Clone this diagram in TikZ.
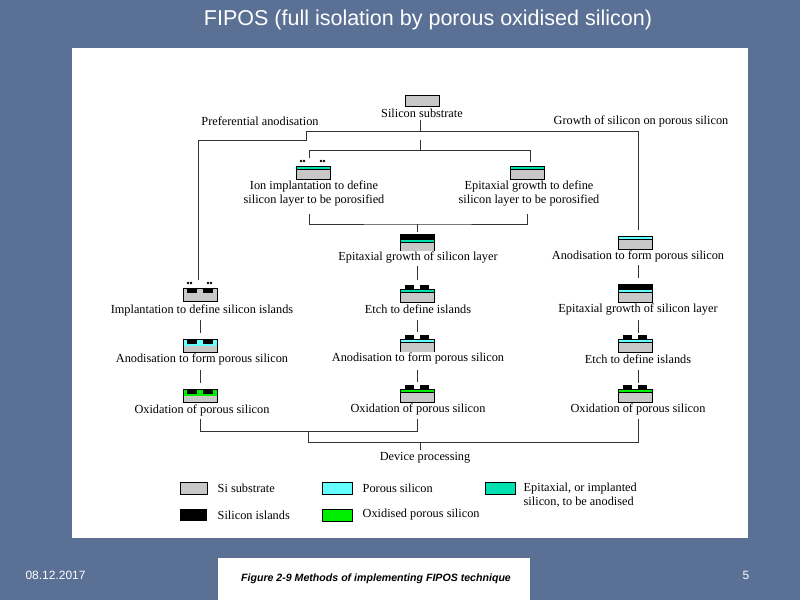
\documentclass[tikz,border=0pt]{standalone}
\usepackage{fontspec}
\setmainfont{Liberation Serif}
\newfontfamily\arialf{Liberation Sans}
\definecolor{bgblue}{HTML}{5A7095}
\definecolor{sigray}{HTML}{C8C8C8}
\definecolor{porous}{HTML}{66FFFF}
\definecolor{epitl}{HTML}{00E0B0}
\definecolor{oxgrn}{HTML}{00EE00}
\newcommand\Wsub{\draw[fill=sigray] (-17,0) rectangle (17,11);}
\newcommand\Wstripe[1]{\fill[#1](-17,0) rectangle (17,3); \fill[sigray] (-17,3) rectangle (17,13); \draw (-17,0) rectangle (17,13); \draw (-17,3)--(17,3);}
\newcommand\Wbumps{\fill[black] (-12,-4) rectangle (-3,0); \fill[black] (3,-4) rectangle (12,0);}
\newcommand\Wepi[1]{\fill[black](-17,-5) rectangle (17,0); \Wstripe{#1} \draw (-17,-5) rectangle (17,13);}
\newcommand\Wdots{\foreach \xx in {-12,-9,8,11} \fill (\xx,-5) circle (1.3);}
\newcommand\Wemb[1]{\fill[#1](-17,0) rectangle (17,7); \fill[sigray](-17,7) rectangle (17,13); \fill[black](-13,0) rectangle (-3,5); \fill[black](3,0) rectangle (13,5); \draw (-17,0) rectangle (17,13);}
\begin{document}
\begin{tikzpicture}[x=1pt,y=-1pt,
  lbl/.style={font=\fontsize{12.3}{14}\selectfont, align=center, inner sep=0.5pt, fill=white},
  conn/.style={draw=black!80, line width=0.8pt}]
\useasboundingbox (0,0) rectangle (800,600);
\fill[bgblue] (0,0) rectangle (800,600);
\node[font=\arialf\fontsize{21.5}{24}\selectfont, text=white] (title) at (428,20) {FIPOS (full isolation by porous oxidised silicon)};
\fill[white] (72,48) rectangle (748,538);
\fill[white] (218,558) rectangle (530,600);
\node[font=\arialf\bfseries\itshape\fontsize{10.6}{12}\selectfont] (cap) at (376,579) {Figure 2-9 Methods of implementing FIPOS technique};
\node[font=\arialf\fontsize{12}{13}\selectfont, text=white, anchor=west] (date) at (22,575) {08.12.2017};
\node[font=\arialf\fontsize{12}{13}\selectfont, text=white] (pg) at (746,575) {5};

% connectors
\draw[conn] (420,120) |- (306,131) |- (198,140) -- (198,280);
\draw[conn] (306,131) -- (638,131) -- (638,230);
\draw[conn] (420,140) -- (420,150);
\draw[conn] (309,158) |- (530,150) -- (530,162);
\draw[conn] (309,214) |- (417,224) -| (527,214);
\draw[conn] (417,224) -- (417,232);
\draw[conn] (417,266) -- (417,280);
\draw[conn] (417,320) -- (417,332);
\draw[conn] (417,370) -- (417,382);
\draw[conn] (200,320) -- (200,333);
\draw[conn] (200,370) -- (200,383);
\draw[conn] (638,265) -- (638,278);
\draw[conn] (638,320) -- (638,333);
\draw[conn] (638,370) -- (638,383);
\draw[conn] (200,419) |- (417,431) -- (417,419);
\draw[conn] (308,431) |- (638,442) -- (638,419);
\draw[conn] (420,442) -- (420,450);

% icons
\begin{scope}[shift={(422,95)}]\Wsub\end{scope}
\begin{scope}[shift={(313,166)}]\Wdots\Wstripe{epitl}\end{scope}
\begin{scope}[shift={(527,166)}]\Wstripe{epitl}\end{scope}
\begin{scope}[shift={(417,239)}]\Wepi{epitl}\end{scope}
\begin{scope}[shift={(417,289)}]\Wbumps\Wstripe{epitl}\end{scope}
\begin{scope}[shift={(417,339)}]\Wbumps\Wstripe{porous}\end{scope}
\begin{scope}[shift={(417,389)}]\Wbumps\Wstripe{oxgrn}\end{scope}
\begin{scope}[shift={(200,288)}]\Wdots\Wemb{sigray}\end{scope}
\begin{scope}[shift={(200,339)}]\Wemb{porous}\end{scope}
\begin{scope}[shift={(200,389)}]\Wemb{oxgrn}\end{scope}
\begin{scope}[shift={(635,236)}]\Wstripe{porous}\end{scope}
\begin{scope}[shift={(635,289)}]\Wepi{porous}\end{scope}
\begin{scope}[shift={(635,339)}]\Wbumps\Wstripe{porous}\end{scope}
\begin{scope}[shift={(635,389)}]\Wbumps\Wstripe{oxgrn}\end{scope}

% labels
\node[lbl] (sub) at (422,113) {Silicon substrate};
\node[lbl] (pref) at (260,121) {Preferential anodisation};
\node[lbl] (grow) at (641,121) {Growth of silicon on porous silicon};
\node[lbl] (ion) at (314,193) {Ion implantation to define\\silicon layer to be porosified};
\node[lbl] (epd) at (529,193) {Epitaxial growth to define\\silicon layer to be porosified};
\node[lbl] (egm) at (418,257) {Epitaxial growth of silicon layer};
\node[lbl] (etm) at (418,309) {Etch to define islands};
\node[lbl] (anm) at (418,358) {Anodisation to form porous silicon};
\node[lbl] (oxm) at (418,409) {Oxidation of porous silicon};
\node[lbl] (iml) at (202,310) {Implantation to define silicon islands};
\node[lbl] (anl) at (202,359) {Anodisation to form porous silicon};
\node[lbl] (oxl) at (202,410) {Oxidation of porous silicon};
\node[lbl] (anr) at (638,256) {Anodisation to form porous silicon};
\node[lbl] (egr) at (638,309) {Epitaxial growth of silicon layer};
\node[lbl] (etr) at (638,359) {Etch to define islands};
\node[lbl] (oxr) at (638,409) {Oxidation of porous silicon};
\node[lbl] (dev) at (425,458) {Device processing};

% legend
\draw[fill=sigray] (180,482) rectangle (207,494);
\node[lbl, anchor=west] (l1) at (217,488) {Si substrate};
\draw[fill=porous] (322,482) rectangle (352,494);
\node[lbl, anchor=west] (l2) at (362,488) {Porous silicon};
\draw[fill=epitl] (485,482) rectangle (515,494);
\node[lbl, anchor=west, align=left] (l3) at (523,495) {Epitaxial, or implanted\\silicon, to be anodised};
\fill[black] (180,509) rectangle (207,521);
\node[lbl, anchor=west] (l4) at (217,515) {Silicon islands};
\draw[fill=oxgrn] (322,509) rectangle (352,521);
\node[lbl, anchor=west] (l5) at (362,515) {Oxidised porous silicon};
\end{tikzpicture}
\end{document}
